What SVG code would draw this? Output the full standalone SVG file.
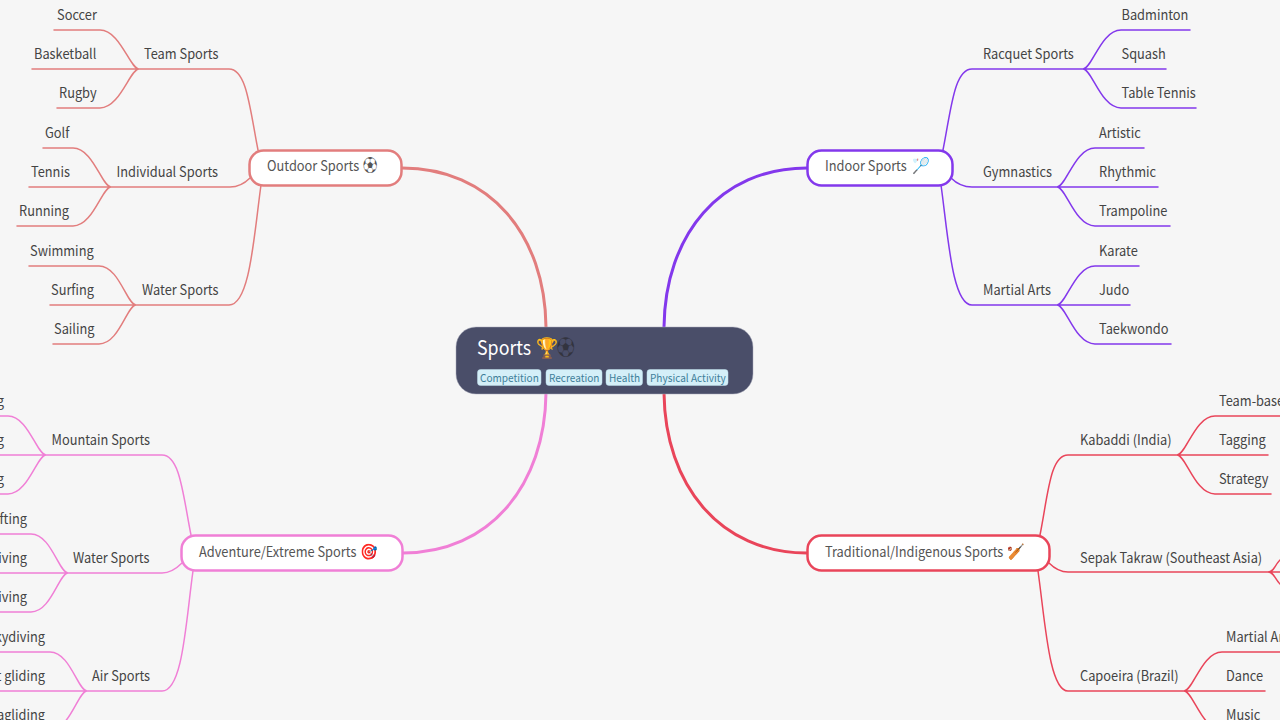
<svg xmlns="http://www.w3.org/2000/svg" width="1280" height="720" viewBox="0 0 1280 720">
<style>
text{font-family:"Noto Sans CJK SC","Noto Sans",sans-serif;font-size:14px;fill:#444}
.l{fill:none;stroke-width:1.5;stroke-linecap:round}
.m{fill:none;stroke-width:3}
.n{fill:#fff;stroke-width:2.5}
.r{stroke:#e27d7d}.p{stroke:#8338ec}.k{stroke:#f07fd6}.d{stroke:#e9455a}
.t{fill:#555}
.e{font-size:15.500px}
.tag{fill:#d4eff8;stroke:#bcdcea;stroke-width:.5}
.tt{font-size:11px;fill:#3f7f9a}
</style>
<rect width="1280" height="720" fill="#f6f6f6"/>
<g id="connectors">
<g class="r">
<path class="m" d="M402 168C490 168 545 235 546 327"/>
<path class="l" d="M258 150C250 110 247 69 229 69H139M54 30H100C120 30 130 69 139 69M32 69H139M57 108H100C120 108 130 69 139 69"/>
<path class="l" d="M250 178C244 184 238 187 230 187H111M43 148H73C93 148 102 187 111 187M29 187H111M17 226H73C93 226 102 187 111 187"/>
<path class="l" d="M261 185C254 235 250 305 229 305H136M29 266H99C119 266 127 305 136 305M50 305H136M53 344H99C119 344 127 305 136 305"/>
</g>
<g class="p">
<path class="m" d="M807 168C720 168 665 235 664 327"/>
<path class="l" d="M943 150C951 110 954 69 972 69H1083M1190 30H1121C1101 30 1092 69 1083 69M1166 69H1083M1196 108H1121C1101 108 1092 69 1083 69"/>
<path class="l" d="M951 178C957 184 963 187 972 187H1057M1144 148H1095C1075 148 1066 187 1057 187M1158 187H1057M1170 226H1095C1075 226 1066 187 1057 187"/>
<path class="l" d="M941 185C948 235 952 305 972 305H1057M1139 266H1095C1075 266 1066 305 1057 305M1130 305H1057M1171 344H1095C1075 344 1066 305 1057 305"/>
</g>
<g class="k">
<path class="m" d="M403 553C490 553 545 485 546 393"/>
<path class="l" d="M191 535C183 495 180 455 162 455H46M0 416H8C28 416 37 455 46 455M0 455H46M0 494H8C28 494 37 455 46 455"/>
<path class="l" d="M182 563C176 569 170 573 162 573H68M0 534H31C51 534 59 573 68 573M0 573H68M0 612H31C51 612 59 573 68 573"/>
<path class="l" d="M193 571C186 620 183 691 162 691H87M0 652H50C70 652 78 691 87 691M0 691H87M50 730C70 730 78 691 87 691"/>
</g>
<g class="d">
<path class="m" d="M807 553C720 553 665 485 664 393"/>
<path class="l" d="M1040 535C1048 495 1050 455 1068 455H1177M1280 416H1215C1195 416 1186 455 1177 455M1268 455H1177M1271 494H1215C1195 494 1186 455 1177 455"/>
<path class="l" d="M1049 563C1055 569 1061 572 1068 572H1280M1280 560C1274 566 1274 572 1268 572M1280 584C1274 578 1274 572 1268 572"/>
<path class="l" d="M1038 571C1045 620 1049 691 1068 691H1184M1280 652H1222C1202 652 1193 691 1184 691M1265 691H1184M1222 730C1202 730 1193 691 1184 691"/>
</g>
</g>
<g id="center">
<rect x="456" y="327" width="297" height="67" rx="20" fill="#4a4e69" stroke="#a9abbb" stroke-width=".5"/>
<text transform="translate(477 355) scale(.89 1)" style="font-size:20px;fill:#fff">Sports <tspan x="66" style="font-size:20px">🏆</tspan><tspan x="89.500" style="font-size:20px;fill:#33343f">⚽</tspan></text>
<rect class="tag" x="477.500" y="369.500" width="63.500" height="16" rx="3"/><text class="tt" transform="translate(480 382) scale(.915 1)">Competition</text>
<rect class="tag" x="546" y="369.500" width="56" height="16" rx="3"/><text class="tt" transform="translate(549 382) scale(.915 1)">Recreation</text>
<rect class="tag" x="606" y="369.500" width="36.500" height="16" rx="3"/><text class="tt" transform="translate(609 382) scale(.915 1)">Health</text>
<rect class="tag" x="647" y="369.500" width="81" height="16" rx="3"/><text class="tt" transform="translate(650 382) scale(.915 1)">Physical Activity</text>
</g>
<g id="outdoor"><rect class="n r" x="249.500" y="150.500" width="152" height="35" rx="14"/><text class="t" transform="translate(267 171) scale(.915 1)">Outdoor Sports <tspan class="e" x="105">⚽</tspan></text></g>
<g id="indoor"><rect class="n p" x="807.500" y="150.500" width="145" height="35" rx="14"/><text class="t" transform="translate(825 171) scale(.915 1)">Indoor Sports <tspan class="e" x="95">🏸</tspan></text></g>
<g id="adventure"><rect class="n k" x="181.500" y="535.500" width="221" height="35" rx="14"/><text class="t" transform="translate(199 557) scale(.915 1)">Adventure/Extreme Sports <tspan class="e" x="176">🎯</tspan></text></g>
<g id="traditional"><rect class="n d" x="807.500" y="535.500" width="242" height="35" rx="14"/><text class="t" transform="translate(825 557) scale(.915 1)">Traditional/Indigenous Sports <tspan class="e" x="199">🏏</tspan></text></g>
<g id="labels-outdoor">
<text transform="translate(144 58.500) scale(.915 1)">Team Sports</text><text transform="translate(57 19.500) scale(.915 1)">Soccer</text><text transform="translate(34 58.500) scale(.915 1)">Basketball</text><text transform="translate(59 97.500) scale(.915 1)">Rugby</text>
<text transform="translate(116.500 176.500) scale(.915 1)">Individual Sports</text><text transform="translate(45 137.500) scale(.915 1)">Golf</text><text transform="translate(31 176.500) scale(.915 1)">Tennis</text><text transform="translate(19 215.500) scale(.915 1)">Running</text>
<text transform="translate(142 294.500) scale(.915 1)">Water Sports</text><text transform="translate(30 255.500) scale(.915 1)">Swimming</text><text transform="translate(51 294.500) scale(.915 1)">Surfing</text><text transform="translate(54 333.500) scale(.915 1)">Sailing</text>
</g>
<g id="labels-indoor">
<text transform="translate(983 58.500) scale(.915 1)">Racquet Sports</text><text transform="translate(1121.500 19.500) scale(.915 1)">Badminton</text><text transform="translate(1121.500 58.500) scale(.915 1)">Squash</text><text transform="translate(1121.500 97.500) scale(.915 1)">Table Tennis</text>
<text transform="translate(983 176.500) scale(.915 1)">Gymnastics</text><text transform="translate(1099 137.500) scale(.915 1)">Artistic</text><text transform="translate(1099 176.500) scale(.915 1)">Rhythmic</text><text transform="translate(1099 215.500) scale(.915 1)">Trampoline</text>
<text transform="translate(983 294.500) scale(.915 1)">Martial Arts</text><text transform="translate(1099 255.500) scale(.915 1)">Karate</text><text transform="translate(1099 294.500) scale(.915 1)">Judo</text><text transform="translate(1099 333.500) scale(.915 1)">Taekwondo</text>
</g>
<g id="labels-adventure">
<text transform="translate(51.500 444.500) scale(.915 1)">Mountain Sports</text><text transform="translate(4 405.500) scale(.915 1)" text-anchor="end">g</text><text transform="translate(4 444.500) scale(.915 1)" text-anchor="end">g</text><text transform="translate(4 483.500) scale(.915 1)" text-anchor="end">g</text>
<text transform="translate(73 562.500) scale(.915 1)">Water Sports</text><text transform="translate(27 523.500) scale(.915 1)" text-anchor="end">Rafting</text><text transform="translate(27 562.500) scale(.915 1)" text-anchor="end">diving</text><text transform="translate(27 601.500) scale(.915 1)" text-anchor="end">diving</text>
<text transform="translate(92 680.500) scale(.915 1)">Air Sports</text><text transform="translate(45 641.500) scale(.915 1)" text-anchor="end">Skydiving</text><text transform="translate(45 680.500) scale(.915 1)" text-anchor="end">t gliding</text><text transform="translate(45 719.500) scale(.915 1)" text-anchor="end">Paragliding</text>
</g>
<g id="labels-traditional">
<text transform="translate(1080 444.500) scale(.915 1)">Kabaddi (India)</text><text transform="translate(1219 405.500) scale(.915 1)">Team-based</text><text transform="translate(1219 444.500) scale(.915 1)">Tagging</text><text transform="translate(1219 483.500) scale(.915 1)">Strategy</text>
<text transform="translate(1080 562.500) scale(.915 1)">Sepak Takraw (Southeast Asia)</text>
<text transform="translate(1080 680.500) scale(.915 1)">Capoeira (Brazil)</text><text transform="translate(1226 641.500) scale(.915 1)">Martial Arts</text><text transform="translate(1226 680.500) scale(.915 1)">Dance</text><text transform="translate(1226 719.500) scale(.915 1)">Music</text>
</g>
</svg>
